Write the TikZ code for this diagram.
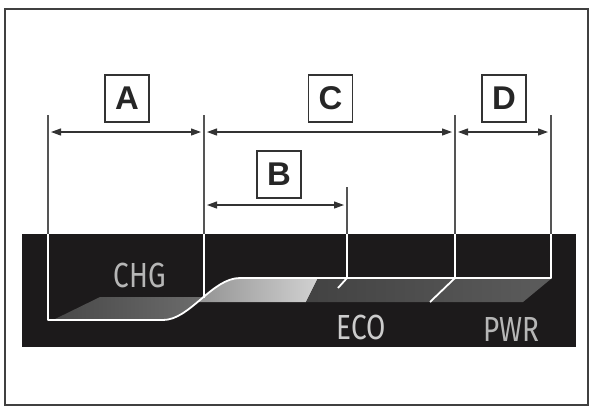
\documentclass[tikz,border=0pt]{standalone}
\usepackage{fontspec}
\usepackage{xcolor}
\usetikzlibrary{arrows.meta,positioning,calc}
\setmainfont{Liberation Sans}
\newfontfamily\modefont[FakeStretch=0.8]{Fira Sans}
\definecolor{bandblack}{RGB}{28,26,27}
\definecolor{guidegray}{RGB}{85,85,85}
\definecolor{dimgray}{RGB}{51,51,51}
\definecolor{modegray}{RGB}{182,182,182}

\tikzset{
  letterbox/.style={rectangle, draw=dimgray, line width=1.8bp, minimum width=44bp, minimum height=47bp, inner sep=0pt, font=\fontsize{33}{33}\selectfont\bfseries, text=black!85},
  modelabel/.style={font=\modefont\fontsize{35}{35}\selectfont, text=modegray, inner sep=0pt},
  dimline/.style={{Triangle[length=10bp,width=7bp]}-{Triangle[length=10bp,width=7bp]}, dimgray, line width=1.2bp, shorten <=3bp, shorten >=3bp},
  guide/.style={guidegray, line width=1.4bp},
  outline/.style={white, line width=1.8bp, line join=round},
}

\begin{document}
\begin{tikzpicture}[x=1bp, y=-1bp]
  \useasboundingbox (0,0) rectangle (592,407);
  \draw[black!75, line width=1.5bp] (5,9) rectangle (588,405);

  % fascia nera
  \fill[bandblack] (22,234) rectangle (576,347);

  % nastro CHG
  \begin{scope}
    \clip (0,320) -- (163,320) .. controls (190,320) and (212,278) .. (240,278) -- (240,200) -- (0,200) -- cycle;
    \shade[left color=black!72, right color=black!52] (53,320) -- (100,297) -- (260,297) -- (260,320) -- cycle;
  \end{scope}

  % nastro ECO / PWR
  \begin{scope}
    \clip (163,320) .. controls (190,320) and (212,278) .. (240,278) -- (600,278) -- (600,400) -- (163,400) -- cycle;
    \shade[left color=black!52, right color=black!18] (150,278) -- (318,278) -- (306,302) -- (150,302) -- cycle;
    \shade[left color=black!74, right color=black!64] (318,278) -- (552,278) -- (523,302) -- (306,302) -- cycle;
  \end{scope}

  % guide
  \coordinate (g1) at (48,115);
  \coordinate (g2) at (204,115);
  \coordinate (g3) at (455,115);
  \coordinate (g4) at (551,115);
  \coordinate (gb) at (347,187);
  \coordinate (bandtop) at (0,234);
  \foreach \g in {g1,g2,g3,g4,gb}
    \draw[guide] (\g) -- (\g |- bandtop);

  \draw[outline] (g1 |- bandtop) -- (48,320) -- (163,320) .. controls (190,320) and (212,278) .. (240,278) -- (551,278) -- (g4 |- bandtop);
  \draw[outline] (g2 |- bandtop) -- (204,298);
  \draw[outline] (gb |- bandtop) -- (347,278) -- (338,288);
  \draw[outline] (g3 |- bandtop) -- (455,278) -- (430,302);

  % quote
  \coordinate (row1) at (0,132);
  \coordinate (row2) at (0,205);
  \draw[dimline] (g1 |- row1) -- (g2 |- row1);
  \draw[dimline] (g2 |- row1) -- (g3 |- row1);
  \draw[dimline] (g3 |- row1) -- (g4 |- row1);
  \draw[dimline] (g2 |- row2) -- (gb |- row2);

  \node[letterbox] (lblA) at (127,98.5) {A};
  \node[letterbox] (lblC) at (330.5,98.5) {C};
  \node[letterbox] (lblD) at (504,98.5) {D};
  \node[letterbox] (lblB) at (279,174.5) {B};

  % modi
  \node[modelabel] (chg) at (140,275) {CHG};
  \node[modelabel, text=black!20] (eco) at (361,327) {ECO};
  \node[modelabel] (pwr) at (511,329) {PWR};
\end{tikzpicture}
\end{document}
